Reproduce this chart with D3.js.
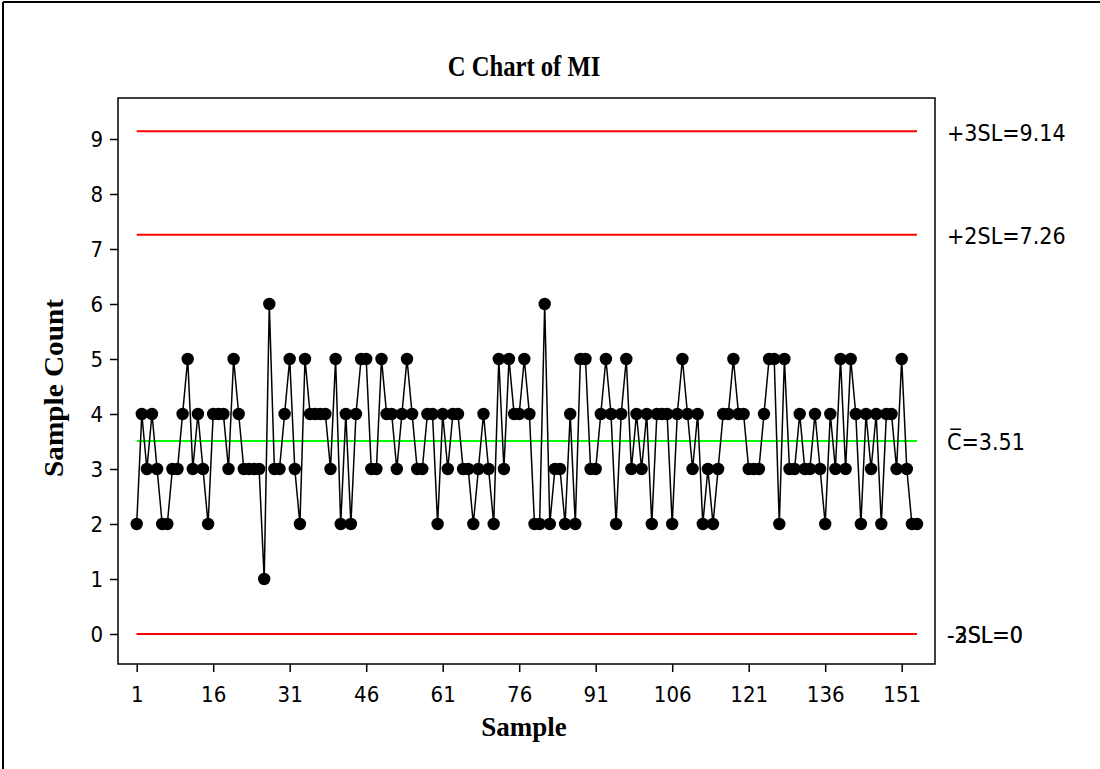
<!DOCTYPE html>
<html>
<head>
<meta charset="utf-8">
<script src="https://cdn.jsdelivr.net/npm/d3@7"></script>
<style>
  html, body { margin: 0; padding: 0; background: #fff; }
  svg { display: block; }
  .tick text { font-family: "DejaVu Sans Condensed", "DejaVu Sans", sans-serif; font-stretch: condensed; font-size: 22px; fill: #000; }
  .tick line { stroke: #000; stroke-width: 1.5px; }
  .domain { display: none; }
</style>
</head>
<body>
<svg id="chart" width="1100" height="769"></svg>
<script>
// C chart of MI: counts per sample
const sampleCounts = [
  2,4,3,4,3,2,2,3,3,4,
  5,3,4,3,2,4,4,4,3,5,
  4,3,3,3,3,1,6,3,3,4,
  5,3,2,5,4,4,4,4,3,5,
  2,4,2,4,5,5,3,3,5,4,
  4,3,4,5,4,3,3,4,4,2,
  4,3,4,4,3,3,2,3,4,3,
  2,5,3,5,4,4,5,4,2,2,
  6,2,3,3,2,4,2,5,5,3,
  3,4,5,4,2,4,5,3,4,3,
  4,2,4,4,4,2,4,5,4,3,
  4,2,3,2,3,4,4,5,4,4,
  3,3,3,4,5,5,2,5,3,3,
  4,3,3,4,3,2,4,3,5,3,
  5,4,2,4,3,4,2,4,4,3,
  5,3,2,2
];
const sampleIds = sampleCounts.map((_, i) => i + 1);

const xTickValues = [1, 16, 31, 46, 61, 76, 91, 106, 121, 136, 151];
const yTickValues = [0, 1, 2, 3, 4, 5, 6, 7, 8, 9];

// Control limits (value + label); lower limits are clipped at zero
const limitValues = [9.14, 7.26, 3.51, 0, 0];
const limitLabels = ["+3SL=9.14", "+2SL=7.26", "C\u0305=3.51", "-3SL=0", "-2SL=0"];
const limitColors = ["#ff0000", "#ff0000", "#00ff00", "#ff0000", "#ff0000"];

const svg = d3.select("#chart");
const frame = { left: 118, right: 935, top: 98, bottom: 664 };

const x = d3.scaleLinear().domain([1, sampleIds.length]).range([136.7, 917]);
const y = d3.scaleLinear().domain([0, 9]).range([634, 139]);

// outer border (top and left edges)
svg.append("line").attr("x1", 3).attr("y1", 2).attr("x2", 1100).attr("y2", 2)
  .attr("stroke", "#000").attr("stroke-width", 2);
svg.append("line").attr("x1", 3).attr("y1", 2).attr("x2", 3).attr("y2", 769)
  .attr("stroke", "#000").attr("stroke-width", 2);

// data region frame
svg.append("rect")
  .attr("x", frame.left).attr("y", frame.top)
  .attr("width", frame.right - frame.left).attr("height", frame.bottom - frame.top)
  .attr("fill", "none").attr("stroke", "#000").attr("stroke-width", 1.5);

// axes
svg.append("g")
  .attr("transform", `translate(${frame.left},0)`)
  .call(d3.axisLeft(y).tickValues(yTickValues).tickSize(8).tickPadding(7).tickFormat(d3.format("d")));

svg.append("g")
  .attr("transform", `translate(0,${frame.bottom})`)
  .call(d3.axisBottom(x).tickValues(xTickValues).tickSize(8).tickPadding(14).tickFormat(d3.format("d")));

// control limit lines
svg.append("g").selectAll("line")
  .data(limitValues)
  .join("line")
  .attr("x1", x(1)).attr("x2", x(sampleIds.length))
  .attr("y1", d => y(d)).attr("y2", d => y(d))
  .attr("stroke", (d, i) => limitColors[i])
  .attr("stroke-width", 2);

// limit labels at the right
svg.append("g").selectAll("text")
  .data(limitValues)
  .join("text")
  .attr("x", 947)
  .attr("y", d => y(d))
  .attr("dy", "0.4em")
  .style("font-family", "'DejaVu Sans Condensed', 'DejaVu Sans', sans-serif")
  .style("font-stretch", "condensed")
  .style("font-size", "23px")
  .attr("fill", "#000")
  .text((d, i) => limitLabels[i]);

// series line and points
const line = d3.line().x((d, i) => x(sampleIds[i])).y(d => y(d));
svg.append("path")
  .datum(sampleCounts)
  .attr("d", line)
  .attr("fill", "none")
  .attr("stroke", "#000")
  .attr("stroke-width", 1.5);

svg.append("g").selectAll("circle")
  .data(sampleCounts)
  .join("circle")
  .attr("cx", (d, i) => x(sampleIds[i]))
  .attr("cy", d => y(d))
  .attr("r", 6.2)
  .attr("fill", "#000");

// titles
svg.append("text")
  .attr("transform", "translate(524,76) scale(0.85,1)")
  .attr("text-anchor", "middle")
  .style("font-family", "'Liberation Serif', serif")
  .style("font-weight", "bold")
  .style("font-size", "29px")
  .text("C Chart of MI");

svg.append("text")
  .attr("x", 524).attr("y", 736)
  .attr("text-anchor", "middle")
  .style("font-family", "'Liberation Serif', serif")
  .style("font-weight", "bold")
  .style("font-size", "27px")
  .text("Sample");

svg.append("text")
  .attr("transform", "translate(63,388) rotate(-90)")
  .attr("text-anchor", "middle")
  .attr("textLength", 178)
  .attr("lengthAdjust", "spacingAndGlyphs")
  .style("font-family", "'Liberation Serif', serif")
  .style("font-weight", "bold")
  .style("font-size", "27px")
  .text("Sample Count");
</script>
</body>
</html>
